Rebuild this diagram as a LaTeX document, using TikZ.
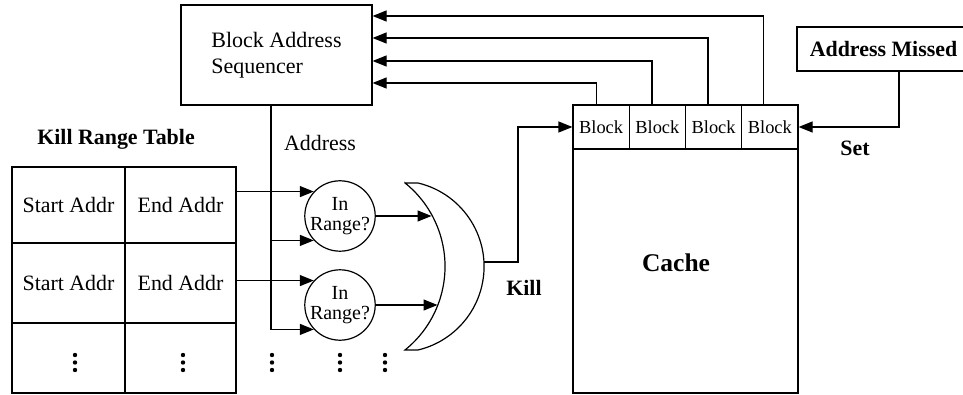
\documentclass[tikz,border=0pt,11pt]{standalone}
\usepackage{fontspec}
\setmainfont{Liberation Serif}
\usetikzlibrary{arrows.meta,positioning}

\begin{document}
\begin{tikzpicture}[
x=0.5pt, y=-0.5pt,
line width=0.6pt,
Box/.style={draw, inner sep=0pt},
Cell/.style={draw, inner sep=0pt, minimum width=56pt},
Bubble/.style={draw, circle, minimum size=33.5pt, inner sep=0pt, align=center, font=\fontsize{10}{10}\selectfont},
Arrow/.style={-{Triangle[length=7pt,width=5.5pt]}},
Bold/.style={font=\bfseries}
]
\useasboundingbox (0,0) rectangle (963,395);

% sequencer and the missed address
\node[Box, minimum width=95.5pt, minimum height=50pt, align=left, font=\fontsize{11}{13}\selectfont] (BAS) at (276.5,55) {Block Address\\Sequencer};
\node[Box, Bold, minimum width=86.5pt, minimum height=22pt] (Miss) at (883.5,49) {Address Missed};

% cache with its blocks
\foreach \i in {1,...,4}
  \node[Box, minimum width=28.125pt, minimum height=22pt, font=\fontsize{9.2}{11}\selectfont] (B\i) at ({573+56.25*(\i-0.5)},127) {Block};
\node[Box, minimum width=112.5pt, minimum height=122pt] (Cache) at (685.5,271) {};
\node[font=\fontsize{12.75}{15}\selectfont\bfseries] (CacheLabel) at (676,263) {Cache};

% kill range table
\node[Bold] (KRT) at (116,139) {Kill Range Table};
\node[Cell, minimum width=56.5pt, minimum height=38pt] (S1) at (68.5,205) {Start Addr};
\node[Cell, minimum width=55.5pt, minimum height=38pt] (E1) at (180.5,205) {End Addr};
\node[Cell, minimum width=56.5pt, minimum height=40pt] (S2) at (68.5,283) {Start Addr};
\node[Cell, minimum width=55.5pt, minimum height=40pt] (E2) at (180.5,283) {End Addr};
\node[Cell, minimum width=56.5pt, minimum height=35pt] (S3) at (68.5,358) {};
\node[Cell, minimum width=55.5pt, minimum height=35pt] (E3) at (180.5,358) {};

% comparators
\node[Bubble] (R1) at (340,216) {In\\Range?};
\node[Bubble] (R2) at (340,305) {In\\Range?};

% or gate
\draw (405,183) -- (418,183) arc[start angle=76.7, end angle=-76.7, radius=42.9pt]
  -- (405,350) arc[start angle=-51.2, end angle=51.2, radius=53.6pt] -- cycle;
\coordinate (G1) at (431.5,216);
\coordinate (G2) at (437.5,305);
\coordinate (GOut) at (484,262);

% more rows follow
\foreach \x in {75,183,272,340,385}
  \foreach \y in {355,362.5,370}
    \fill (\x,\y) circle (1.1pt);

% address bus
\coordinate (Addr) at ([xshift=-2.75pt]BAS.south);
\node (AddrLabel) at (320,143) {Address};
\draw[Arrow] (Addr) |- (R2.223);
\draw[Arrow] (Addr |- R1.223) -- (R1.223);
\draw[Arrow] (E1.east |- R1.137) -- (R1.137);
\draw[Arrow] (E2.east |- R2.137) -- (R2.137);

\draw[Arrow] (R1.east) -- (G1);
\draw[Arrow] (R2.east) -- (G2);

% kill and set
\coordinate (KillTurn) at (518,262);
\draw[Arrow] (GOut) -- (KillTurn) |- (B1.west);
\node[Bold] (KillLabel) at (524,288) {Kill};
\draw[Arrow] ([xshift=7.75pt]Miss.south) |- (B4.east);
\node[Bold] (SetLabel) at (855,148) {Set};

% blocks back to the sequencer
\foreach \i/\dx/\dy in {1/-2.5/-14, 2/-2.7/-3, 3/-2.8/8.5, 4/-3/19.5}
  \draw[Arrow] ([xshift=\dx pt]B\i.north) |- ([yshift=\dy pt]BAS.east);

\end{tikzpicture}
\end{document}
